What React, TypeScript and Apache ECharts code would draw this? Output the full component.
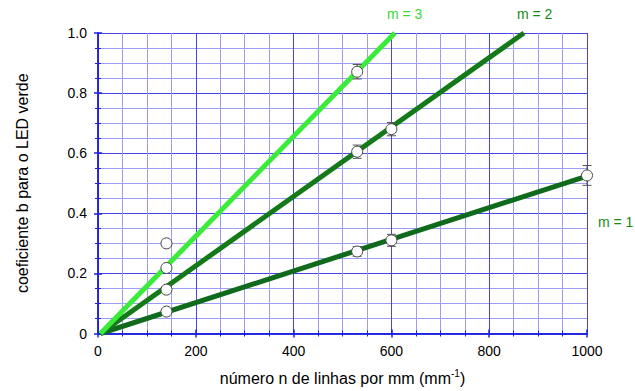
import React, { useEffect, useRef } from "react";
import * as echarts from "echarts";

// Measured points: [n (lines/mm), b, error]
const pointsX = [140, 140, 140, 140, 530, 530, 530, 600, 600, 1000];
const pointsY = [0.3, 0.218, 0.146, 0.073, 0.871, 0.605, 0.273, 0.68, 0.31, 0.526];
const pointsErr = [0, 0, 0, 0, 0.024, 0.022, 0.016, 0.022, 0.02, 0.033];

// Fitted lines: start and end points
const lineM3 = [[5, 0], [607, 1.0]];
const lineM2 = [[5, 0], [871, 1.0]];
const lineM1 = [[5, 0], [1000, 0.524]];

const xTicks = [0, 200, 400, 600, 800, 1000];
const yTicks = [0, 0.2, 0.4, 0.6, 0.8, 1.0];

const FONT = "Liberation Sans, Arial, Helvetica, sans-serif";

export default function App() {
  const ref = useRef<HTMLDivElement>(null);
  useEffect(() => {
    if (!ref.current) return;
    const chart = echarts.init(ref.current, undefined, { renderer: "svg" });
    const scatterData = pointsX.map((x, i) => [x, pointsY[i]]);
    const errData = pointsX
      .map((x, i) => [x, pointsY[i], pointsErr[i]])
      .filter((d) => d[2] > 0);
    const axisLineStyle = { color: "#1f1fe0", width: 1.5 };
    const majorGrid = { color: "#4646ea", width: 1 };
    const minorGrid = { color: "#9d9df3", width: 1 };
    chart.setOption({
      animation: false,
      backgroundColor: "#ffffff",
      grid: { left: 98, right: 48, top: 33, bottom: 54, show: false },
      xAxis: [
        {
          type: "value",
          min: xTicks[0],
          max: xTicks[xTicks.length - 1],
          interval: 200,
          name: "número n de linhas por mm (mm{sup|-1})",
          nameLocation: "middle",
          nameGap: 35,
          nameTextStyle: {
            fontFamily: FONT,
            fontSize: 16,
            color: "#000",
            rich: {
              sup: { fontFamily: FONT, fontSize: 10, color: "#000", verticalAlign: "bottom", padding: [0, 0, 9, 0] },
            },
          },
          axisLine: { show: true, onZero: false, lineStyle: axisLineStyle },
          axisTick: { show: true, inside: true, length: 4, lineStyle: axisLineStyle },
          minorTick: { show: true, splitNumber: 4, length: 3, lineStyle: { color: "#1f1fe0", width: 1 } },
          axisLabel: {
            fontFamily: FONT,
            fontSize: 14,
            color: "#000",
            margin: 10,
            formatter: (v: number) => String(v),
          },
          splitLine: { show: true, lineStyle: majorGrid },
          minorSplitLine: { show: true, lineStyle: minorGrid },
        },
        {
          type: "value",
          position: "top",
          min: xTicks[0],
          max: xTicks[xTicks.length - 1],
          interval: 200,
          axisLine: { show: true, lineStyle: axisLineStyle },
          axisTick: { show: true, inside: true, length: 4, lineStyle: axisLineStyle },
          minorTick: { show: true, splitNumber: 4, length: 3, lineStyle: { color: "#1f1fe0", width: 1 } },
          axisLabel: { show: false },
          splitLine: { show: false },
        },
      ],
      yAxis: [
        {
          type: "value",
          min: yTicks[0],
          max: yTicks[yTicks.length - 1],
          interval: 0.2,
          name: "coeficiente b para o LED verde",
          nameLocation: "middle",
          nameGap: 68,
          nameTextStyle: { fontFamily: FONT, fontSize: 16, color: "#000" },
          axisLine: { show: true, onZero: false, lineStyle: axisLineStyle },
          axisTick: { show: true, inside: true, length: 4, lineStyle: axisLineStyle },
          minorTick: { show: true, splitNumber: 4, length: 3, lineStyle: { color: "#1f1fe0", width: 1 } },
          axisLabel: {
            fontFamily: FONT,
            fontSize: 14,
            color: "#000",
            margin: 11,
            formatter: (v: number) => (v === 0 ? "0" : v.toFixed(1)),
          },
          splitLine: { show: true, lineStyle: majorGrid },
          minorSplitLine: { show: true, lineStyle: minorGrid },
        },
        {
          type: "value",
          position: "right",
          min: yTicks[0],
          max: yTicks[yTicks.length - 1],
          interval: 0.2,
          axisLine: { show: true, lineStyle: axisLineStyle },
          axisTick: { show: true, inside: true, length: 4, lineStyle: axisLineStyle },
          minorTick: { show: true, splitNumber: 4, length: 3, lineStyle: { color: "#1f1fe0", width: 1 } },
          axisLabel: { show: false },
          splitLine: { show: false },
        },
      ],
      series: [
        {
          type: "line",
          data: lineM1,
          symbol: "none",
          lineStyle: { color: "#0f6a1c", width: 5 },
          z: 3,
        },
        {
          type: "line",
          data: lineM2,
          symbol: "none",
          lineStyle: { color: "#137a17", width: 5 },
          z: 3,
        },
        {
          type: "line",
          data: lineM3,
          symbol: "none",
          lineStyle: { color: "#3aeb3a", width: 5 },
          z: 3,
        },
        {
          type: "custom",
          data: errData,
          z: 4,
          renderItem: (params: any, api: any) => {
            const x = api.value(0);
            const y = api.value(1);
            const e = api.value(2);
            const top = api.coord([x, y + e]);
            const bot = api.coord([x, y - e]);
            const w = 4.5;
            const style = { stroke: "#555", lineWidth: 1 };
            return {
              type: "group",
              children: [
                { type: "line", shape: { x1: top[0], y1: top[1], x2: bot[0], y2: bot[1] }, style },
                { type: "line", shape: { x1: top[0] - w, y1: top[1], x2: top[0] + w, y2: top[1] }, style },
                { type: "line", shape: { x1: bot[0] - w, y1: bot[1], x2: bot[0] + w, y2: bot[1] }, style },
              ],
            };
          },
        },
        {
          type: "scatter",
          data: scatterData,
          symbol: "circle",
          symbolSize: 11,
          itemStyle: { color: "#ffffff", borderColor: "#444", borderWidth: 1, opacity: 1 },
          z: 5,
        },
      ],
      graphic: [
        { type: "text", left: 387, top: 7, style: { text: "m = 3", fill: "#36d936", fontFamily: FONT, fontSize: 14 } },
        { type: "text", left: 517, top: 7, style: { text: "m = 2", fill: "#168a1a", fontFamily: FONT, fontSize: 14 } },
        { type: "text", left: 598, top: 215, style: { text: "m = 1", fill: "#168a1a", fontFamily: FONT, fontSize: 14 } },
      ],
    });
    return () => chart.dispose();
  }, []);
  return <div ref={ref} style={{ width: 635, height: 391, position: "absolute", left: 0, top: 0 }} />;
}
